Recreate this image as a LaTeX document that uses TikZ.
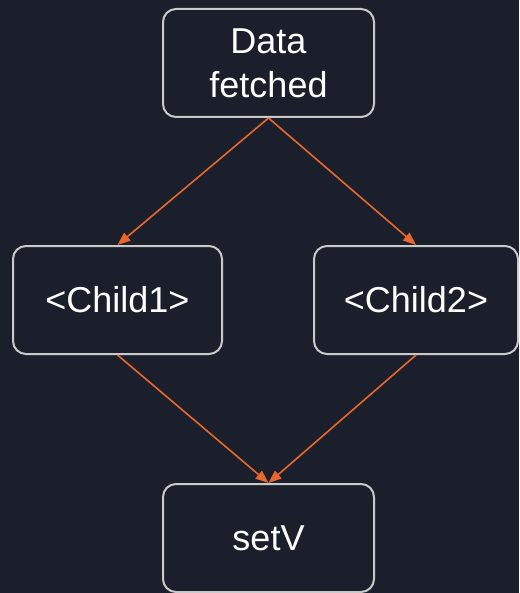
\documentclass[tikz,border=0pt]{standalone}
\usepackage{fontspec}
\setmainfont{Liberation Sans}
\usetikzlibrary{arrows.meta}
\definecolor{bgdark}{HTML}{1B1F2B}
\definecolor{boxline}{HTML}{C9C9C9}
\definecolor{flow}{HTML}{E8682C}
\tikzset{
  stagebox/.style={draw=boxline, line width=2pt, rounded corners=13pt, fill=bgdark,
    text=white, align=center, minimum height=108pt, inner sep=0pt,
    font=\fontsize{36}{44}\selectfont},
  flowarrow/.style={draw=flow, line width=1.6pt, -{Triangle[length=13pt,width=10pt]}}
}
\begin{document}
\begin{tikzpicture}[x=1pt,y=-1pt]
                \fill[bgdark] (0,0) rectangle (519,593);
                \useasboundingbox (0,0) rectangle (519,593);

                \node[stagebox, minimum width=211pt] (fetched) at (268.5,63) {Data\\fetched};
                \node[stagebox, minimum width=209pt] (childone) at (117.5,300) {<Child1>};
                \node[stagebox, minimum width=204pt] (childtwo) at (416,300) {<Child2>};
                \node[stagebox, minimum width=211pt] (setv) at (268.5,538) {setV};

                \draw[flowarrow] (fetched.south) -- (childone.north);
                \draw[flowarrow] (fetched.south) -- (childtwo.north);
                \draw[flowarrow] (childone.south) -- (setv.north);
                \draw[flowarrow] (childtwo.south) -- (setv.north);
            \end{tikzpicture}
\end{document}
